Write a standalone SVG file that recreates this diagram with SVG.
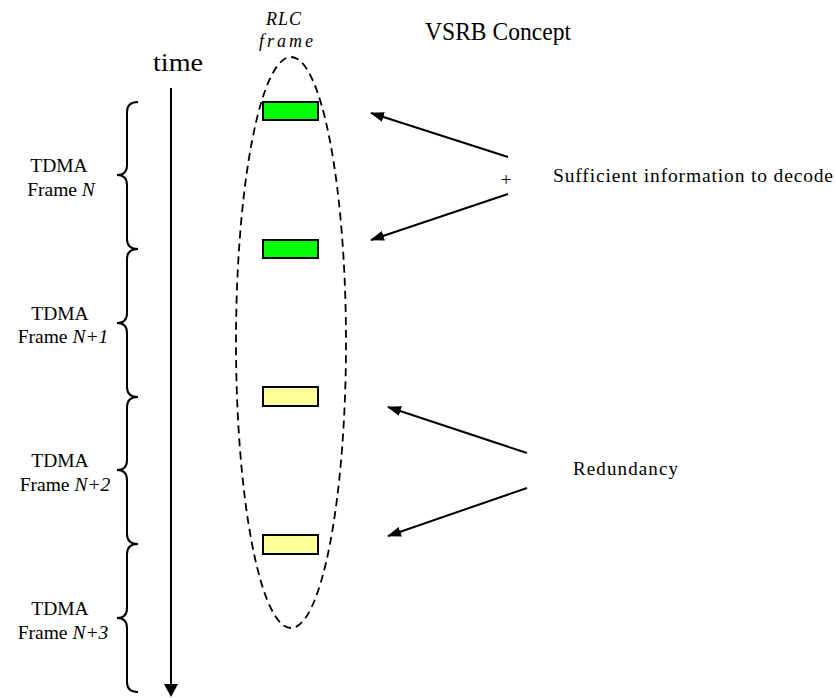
<svg xmlns="http://www.w3.org/2000/svg" width="836" height="698" viewBox="0 0 836 698">
<style>
  .t { font-family: "Liberation Serif", "Times New Roman", serif; fill: #000; }
  .lbl { font-size: 19.5px; text-anchor: middle; }
  .brace { fill: none; stroke: #000; stroke-width: 2; }
  .conn { fill: none; stroke: #000; stroke-width: 2; }
  .slot { stroke: #000; stroke-width: 2; }
  .green { fill: #00FF00; }
  .yellow { fill: #FFFF99; }
</style>
<defs>
  <marker id="ah" markerWidth="14" markerHeight="10" refX="13" refY="5" orient="auto" markerUnits="userSpaceOnUse">
    <path d="M0,0 L14,5 L0,10 Z" fill="#000"/>
  </marker>
</defs>
<rect width="836" height="698" fill="#fff"/>

<g id="title">
  <text class="t" x="425" y="40" font-size="25" textLength="146" lengthAdjust="spacingAndGlyphs">VSRB Concept</text>
</g>

<g id="rlc-frame">
  <ellipse cx="291" cy="342.5" rx="55" ry="285.5" fill="none" stroke="#000" stroke-width="1.8" stroke-dasharray="8,5"/>
  <text class="t" x="266" y="25" font-size="18" font-style="italic" textLength="35" lengthAdjust="spacing">RLC</text>
  <text class="t" x="259" y="47" font-size="18" font-style="italic" textLength="54" lengthAdjust="spacing">frame</text>
</g>

<g id="slots">
  <rect class="slot green" x="263" y="102" width="55" height="18"/>
  <rect class="slot green" x="263" y="240" width="55" height="18"/>
  <rect class="slot yellow" x="263" y="387" width="55" height="19"/>
  <rect class="slot yellow" x="263" y="535" width="55" height="19"/>
</g>

<g id="time-axis">
  <text class="t" x="153" y="71" font-size="26" textLength="50" lengthAdjust="spacingAndGlyphs">time</text>
  <line class="conn" x1="171" y1="88" x2="171" y2="685"/>
  <path d="M164,684 L178,684 L171,697 Z" fill="#000"/>
</g>

<g id="tdma-braces">
  <path class="brace" d="M138,102 Q127,102 127,112 L127,165 Q127,175 117,175 Q127,175 127,185 L127,239 Q127,249 138,249"/>
  <path class="brace" d="M138,249 Q127,249 127,259 L127,313 Q127,323 117,323 Q127,323 127,333 L127,387 Q127,397 138,397"/>
  <path class="brace" d="M138,397 Q127,397 127,407 L127,460 Q127,470 117,470 Q127,470 127,480 L127,534 Q127,544 138,544"/>
  <path class="brace" d="M138,544 Q127,544 127,554 L127,608 Q127,618 117,618 Q127,618 127,628 L127,682 Q127,692 138,692"/>
</g>

<g id="frame-n">
  <text class="t lbl" x="59" y="172">TDMA</text>
  <text class="t lbl" x="61" y="196">Frame <tspan font-style="italic">N</tspan></text>
</g>
<g id="frame-n1">
  <text class="t lbl" x="60" y="320">TDMA</text>
  <text class="t lbl" x="63" y="343">Frame <tspan font-style="italic">N+1</tspan></text>
</g>
<g id="frame-n2">
  <text class="t lbl" x="60" y="467">TDMA</text>
  <text class="t lbl" x="65" y="491">Frame <tspan font-style="italic">N+2</tspan></text>
</g>
<g id="frame-n3">
  <text class="t lbl" x="60" y="615">TDMA</text>
  <text class="t lbl" x="63" y="639">Frame <tspan font-style="italic">N+3</tspan></text>
</g>

<g id="sufficient-label">
  <text class="t" x="506" y="186" font-size="19" text-anchor="middle">+</text>
  <text class="t" x="553" y="182" font-size="19.5" textLength="280" lengthAdjust="spacing">Sufficient information to decode</text>
</g>

<g id="redundancy-label">
  <text class="t" x="573" y="475" font-size="19" textLength="105" lengthAdjust="spacing">Redundancy</text>
</g>

<g id="connectors">
  <line class="conn" x1="508" y1="157" x2="371" y2="113" marker-end="url(#ah)"/>
  <line class="conn" x1="508" y1="194" x2="371" y2="240" marker-end="url(#ah)"/>
  <line class="conn" x1="527" y1="453" x2="388" y2="407" marker-end="url(#ah)"/>
  <line class="conn" x1="527" y1="488" x2="388" y2="536" marker-end="url(#ah)"/>
</g>
</svg>
